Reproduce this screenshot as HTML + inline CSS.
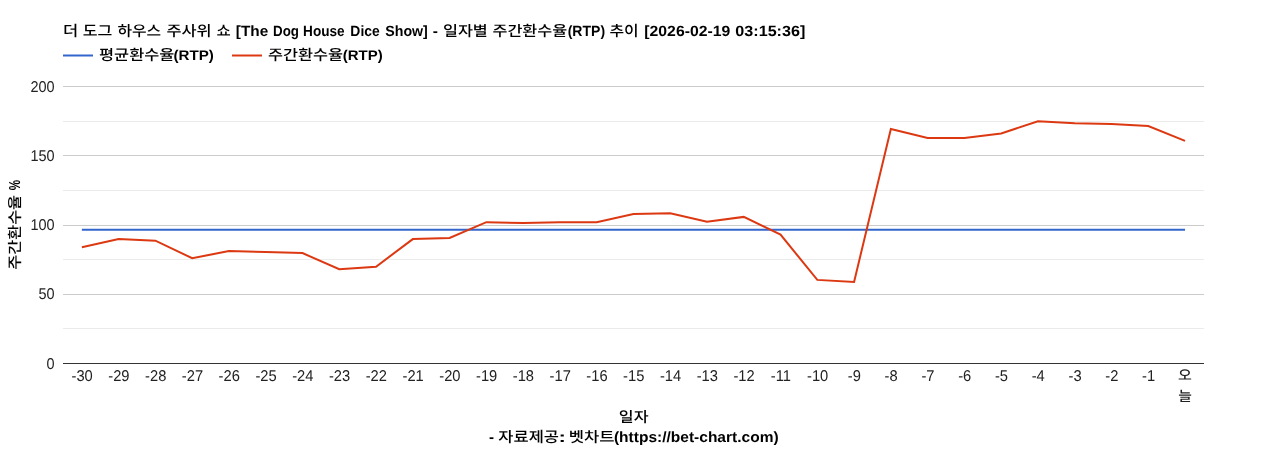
<!DOCTYPE html>
<html lang="ko"><head><meta charset="utf-8"><title>RTP chart</title>
<style>html,body{margin:0;padding:0;background:#fff}body{width:1268px;height:450px;overflow:hidden}svg{display:block;will-change:transform}text{font-family:"Liberation Sans","Noto Sans CJK KR",sans-serif;text-rendering:geometricPrecision}.b{font-weight:bold}.h{font-weight:500;font-size:14.6px}.t{font-size:15px;fill:#222;text-rendering:geometricPrecision}.p{font-weight:700;font-size:15.8px}.L{font-weight:700;font-size:14.8px}.l{font-weight:700;font-size:14px}</style></head><body>
<svg width="1268" height="450" viewBox="0 0 1268 450">
<rect x="0" y="0" width="1268" height="450" fill="#ffffff"/>
<g fill="#000">
<text class="h" transform="translate(62.88,35.70) scale(1.1333,1)">더 </text>
<text class="h" transform="translate(82.75,35.70) scale(1.1029,1)">도그 </text>
<text class="h" transform="translate(117.46,35.70) scale(1.0854,1)">하우스 </text>
<text class="h" transform="translate(166.44,35.70) scale(1.1216,1)">주사위 </text>
<text class="h" transform="translate(216.47,35.70) scale(1.0612,1)">쇼 </text>
<text class="L" transform="translate(235.82,35.60) scale(1.0367,1)">[The </text>
<text class="L" transform="translate(273.10,35.60) scale(0.9009,1)">Dog </text>
<text class="L" transform="translate(303.08,35.60) scale(0.9189,1)">House </text>
<text class="L" transform="translate(350.36,35.60) scale(0.9378,1)">Dice </text>
<text class="L" transform="translate(385.32,35.60) scale(0.9581,1)">Show] </text>
<text class="L" transform="translate(432.68,35.60) scale(1.0500,1)">- </text>
<text class="h" transform="translate(442.96,35.70) scale(1.1137,1)">일자별 </text>
<text class="h" transform="translate(492.44,35.70) scale(1.1136,1)">주간환수율</text>
<text class="L" transform="translate(567.69,35.60) scale(0.9474,1)">(RTP) </text>
<text class="h" transform="translate(609.45,35.70) scale(1.0909,1)">추이 </text>
<text class="L" transform="translate(644.30,35.60) scale(1.0662,1)">[2026-02-19 </text>
<text class="L" transform="translate(735.35,35.60) scale(1.0905,1)">03:15:36] </text>
<text class="h" transform="translate(99.06,59.70) scale(1.1209,1)">평균환수율</text>
<text class="l" transform="translate(173.49,60.20) scale(1.0806,1)">(RTP) </text>
<text class="h" transform="translate(268.04,59.70) scale(1.1167,1)">주간환수율</text>
<text class="l" transform="translate(342.80,60.20) scale(1.0694,1)">(RTP) </text>
<text class="h" transform="translate(618.87,421.70) scale(1.1068,1)">일자 </text>
<text class="L" transform="translate(488.99,442.00) scale(1.0250,1)">- </text>
<text class="h" transform="translate(498.34,441.60) scale(1.1295,1)">자료제공</text>
<text class="L" transform="translate(558.61,442.00) scale(1.5111,1)">: </text>
<text class="h" transform="translate(568.78,441.60) scale(1.1377,1)">벳차트</text>
<text class="L" transform="translate(613.91,442.00) scale(1.0489,1)">(https://bet-chart.com) </text>
</g>
<path d="M63,55.5L93,55.5" stroke="#3366cc" stroke-width="2" fill="none"/>
<path d="M232,55.5L262,55.5" stroke="#dc3912" stroke-width="2" fill="none"/>
<rect x="63" y="328" width="1141" height="1" fill="#ebebeb"/>
<rect x="63" y="259" width="1141" height="1" fill="#ebebeb"/>
<rect x="63" y="190" width="1141" height="1" fill="#ebebeb"/>
<rect x="63" y="121" width="1141" height="1" fill="#ebebeb"/>
<rect x="63" y="294" width="1141" height="1" fill="#cccccc"/>
<rect x="63" y="225" width="1141" height="1" fill="#cccccc"/>
<rect x="63" y="155" width="1141" height="1" fill="#cccccc"/>
<rect x="63" y="86" width="1141" height="1" fill="#cccccc"/>
<rect x="63" y="363" width="1141" height="1" fill="#333333"/>
<path d="M81.85,229.75L1185.04,229.75" stroke="#3366cc" stroke-width="2" fill="none"/>
<path d="M81.85,247.30L118.62,239.00L155.40,240.70L192.17,258.20L228.94,251.10L265.72,252.10L302.49,253.10L339.26,269.20L376.03,266.70L412.81,239.10L449.58,238.00L486.35,222.20L523.13,223.00L559.90,222.20L596.67,222.20L633.45,213.90L670.22,213.20L706.99,221.70L743.76,216.90L780.54,234.60L817.31,279.90L854.08,281.90L890.86,129.00L927.63,138.00L964.40,138.00L1001.18,133.50L1037.95,121.20L1074.72,123.20L1111.49,124.00L1148.27,126.10L1185.04,140.90" stroke="#dc3912" stroke-width="2" fill="none"/>
<text class="t" transform="translate(82.15,381) scale(0.98,1.04)" text-anchor="middle">-30</text>
<text class="t" transform="translate(118.92,381) scale(0.98,1.04)" text-anchor="middle">-29</text>
<text class="t" transform="translate(155.70,381) scale(0.98,1.04)" text-anchor="middle">-28</text>
<text class="t" transform="translate(192.47,381) scale(0.98,1.04)" text-anchor="middle">-27</text>
<text class="t" transform="translate(229.24,381) scale(0.98,1.04)" text-anchor="middle">-26</text>
<text class="t" transform="translate(266.02,381) scale(0.98,1.04)" text-anchor="middle">-25</text>
<text class="t" transform="translate(302.79,381) scale(0.98,1.04)" text-anchor="middle">-24</text>
<text class="t" transform="translate(339.56,381) scale(0.98,1.04)" text-anchor="middle">-23</text>
<text class="t" transform="translate(376.33,381) scale(0.98,1.04)" text-anchor="middle">-22</text>
<text class="t" transform="translate(413.11,381) scale(0.98,1.04)" text-anchor="middle">-21</text>
<text class="t" transform="translate(449.88,381) scale(0.98,1.04)" text-anchor="middle">-20</text>
<text class="t" transform="translate(486.65,381) scale(0.98,1.04)" text-anchor="middle">-19</text>
<text class="t" transform="translate(523.43,381) scale(0.98,1.04)" text-anchor="middle">-18</text>
<text class="t" transform="translate(560.20,381) scale(0.98,1.04)" text-anchor="middle">-17</text>
<text class="t" transform="translate(596.97,381) scale(0.98,1.04)" text-anchor="middle">-16</text>
<text class="t" transform="translate(633.75,381) scale(0.98,1.04)" text-anchor="middle">-15</text>
<text class="t" transform="translate(670.52,381) scale(0.98,1.04)" text-anchor="middle">-14</text>
<text class="t" transform="translate(707.29,381) scale(0.98,1.04)" text-anchor="middle">-13</text>
<text class="t" transform="translate(744.06,381) scale(0.98,1.04)" text-anchor="middle">-12</text>
<text class="t" transform="translate(780.84,381) scale(0.98,1.04)" text-anchor="middle">-11</text>
<text class="t" transform="translate(817.61,381) scale(0.98,1.04)" text-anchor="middle">-10</text>
<text class="t" transform="translate(854.38,381) scale(0.98,1.04)" text-anchor="middle">-9</text>
<text class="t" transform="translate(891.16,381) scale(0.98,1.04)" text-anchor="middle">-8</text>
<text class="t" transform="translate(927.93,381) scale(0.98,1.04)" text-anchor="middle">-7</text>
<text class="t" transform="translate(964.70,381) scale(0.98,1.04)" text-anchor="middle">-6</text>
<text class="t" transform="translate(1001.48,381) scale(0.98,1.04)" text-anchor="middle">-5</text>
<text class="t" transform="translate(1038.25,381) scale(0.98,1.04)" text-anchor="middle">-4</text>
<text class="t" transform="translate(1075.02,381) scale(0.98,1.04)" text-anchor="middle">-3</text>
<text class="t" transform="translate(1111.79,381) scale(0.98,1.04)" text-anchor="middle">-2</text>
<text class="t" transform="translate(1148.57,381) scale(0.98,1.04)" text-anchor="middle">-1</text>
<text class="t" transform="translate(54.6,369) scale(0.965,1.04)" text-anchor="end">0</text>
<text class="t" transform="translate(54.6,299) scale(0.965,1.04)" text-anchor="end">50</text>
<text class="t" transform="translate(54.6,230) scale(0.965,1.04)" text-anchor="end">100</text>
<text class="t" transform="translate(54.6,161) scale(0.965,1.04)" text-anchor="end">150</text>
<text class="t" transform="translate(54.6,92) scale(0.965,1.04)" text-anchor="end">200</text>
<g fill="#000">
<text class="h" transform="translate(20.00,269.66) rotate(-90) scale(1.1121,1)">주간환수율</text>
<text class="p" transform="translate(20.00,190.19) rotate(-90) scale(0.7407,1)">%</text>
</g>
<g fill="#222" font-size="13.8" font-weight="500">
<text transform="translate(1177.96,380.00) scale(1.0894,1)">오</text>
<text transform="translate(1178.16,400.70) scale(1.0723,1)">늘</text>
</g>
</svg></body></html>
